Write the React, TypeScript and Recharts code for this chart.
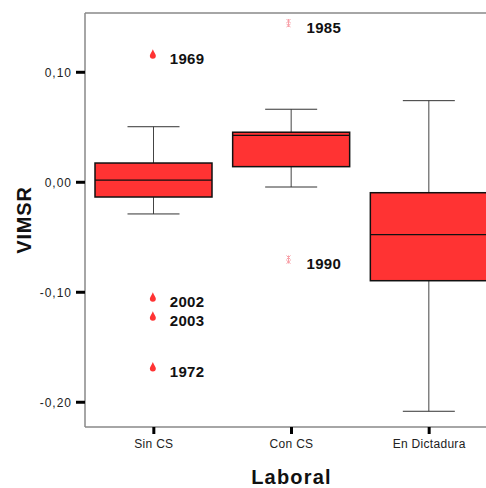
import React from 'react';
import { ComposedChart, Bar, Scatter, XAxis, YAxis, ReferenceLine } from 'recharts';

const categories = ['Sin CS', 'Con CS', 'En Dictadura'];
const whiskerLow = [-0.0288, -0.0043, -0.2082];
const q1 = [-0.0134, 0.0142, -0.0895];
const median = [0.002, 0.0427, -0.0476];
const q3 = [0.0175, 0.0455, -0.0095];
const whiskerHigh = [0.0505, 0.0664, 0.0742];

const outlierCat = [0, 0, 0, 0, 1, 1];
const outlierValue = [0.1163, -0.1045, -0.1218, -0.168, 0.1448, -0.0702];
const outlierLabel = ['1969', '2002', '2003', '1972', '1985', '1990'];
const outlierExtreme = [false, false, false, false, true, true];

const yTicks = [-0.2, -0.1, 0, 0.1];
const Y_MIN = -0.2225;
const Y_MAX = 0.1539;
const FONT = '"Liberation Sans", Arial, sans-serif';

const boxData = categories.map((name, i) => ({
  x: i,
  name,
  lo: whiskerLow[i],
  q1: q1[i],
  med: median[i],
  q3: q3[i],
  hi: whiskerHigh[i],
}));

const outlierData = outlierValue.map((v, i) => ({
  x: outlierCat[i],
  y: v,
  label: outlierLabel[i],
  extreme: outlierExtreme[i],
}));

const BoxShape = (props: any) => {
  const { x, y, width, height, payload } = props;
  const top = Math.min(y, y + height);
  const bot = Math.max(y, y + height);
  const ppu = (bot - top) / (payload.hi - payload.lo);
  const yOf = (v: number) => bot - (v - payload.lo) * ppu;
  const cx = x + width / 2;
  const cap = 26;
  return (
    <g>
      <line x1={cx} x2={cx} y1={yOf(payload.hi)} y2={yOf(payload.q3)} stroke="#444" strokeWidth={1} />
      <line x1={cx} x2={cx} y1={yOf(payload.q1)} y2={yOf(payload.lo)} stroke="#444" strokeWidth={1} />
      <line x1={cx - cap} x2={cx + cap} y1={yOf(payload.hi)} y2={yOf(payload.hi)} stroke="#333" strokeWidth={1} />
      <line x1={cx - cap} x2={cx + cap} y1={yOf(payload.lo)} y2={yOf(payload.lo)} stroke="#333" strokeWidth={1} />
      <rect
        x={x}
        y={yOf(payload.q3)}
        width={width}
        height={yOf(payload.q1) - yOf(payload.q3)}
        fill="#ff3333"
        stroke="#111"
        strokeWidth={1.5}
      />
      <line x1={x} x2={x + width} y1={yOf(payload.med)} y2={yOf(payload.med)} stroke="#111" strokeWidth={1.2} />
    </g>
  );
};

const OutlierShape = (props: any) => {
  const { cx, cy, payload } = props;
  if (payload.extreme) {
    const mx = cx - 3;
    return (
      <g>
        <path
          d={`M${mx - 2},${cy - 4} L${mx + 2},${cy} M${mx + 2},${cy - 4} L${mx - 2},${cy} M${mx},${cy - 4} L${mx},${cy + 4} M${mx - 2},${cy + 1} L${mx + 2},${cy + 4} M${mx + 2},${cy + 1} L${mx - 2},${cy + 4}`}
          stroke="#f8a0a8"
          strokeWidth={1}
          fill="none"
        />
        <text x={cx + 15} y={cy + 10} fontFamily={FONT} fontSize={15} fontWeight="bold" fill="#111" letterSpacing={0.3}>
          {payload.label}
        </text>
      </g>
    );
  }
  const px = cx - 1;
  return (
    <g>
      <path
        d={`M${px},${cy - 5} C${px + 1},${cy - 2} ${px + 3},${cy} ${px + 3},${cy + 1.5} A3,3 0 0 1 ${px - 3},${cy + 1.5} C${px - 3},${cy} ${px - 1},${cy - 2} ${px},${cy - 5} Z`}
        fill="#ff3333"
      />
      <text x={cx + 16} y={cy + 10} fontFamily={FONT} fontSize={15} fontWeight="bold" fill="#111" letterSpacing={0.3}>
        {payload.label}
      </text>
    </g>
  );
};

const fmt = (v: number) => (v < 0 ? '-' : '') + Math.abs(v).toFixed(2).replace('.', ',');

export default function App() {
  return (
    <div style={{ position: 'absolute', left: 0, top: 0, width: 486, height: 488, overflow: 'hidden', background: '#fff' }}>
      <ComposedChart width={500} height={488} margin={{ top: 13, right: 2, bottom: 0, left: 0 }} data={boxData}>
        <XAxis
          dataKey="x"
          type="number"
          domain={[-0.5, 2.5]}
          ticks={[0, 1, 2]}
          allowDataOverflow
          tickFormatter={(v: number) => categories[v] ?? ''}
          height={61}
          axisLine={{ stroke: '#888', strokeWidth: 1.5 }}
          tickLine={{ stroke: '#000', strokeWidth: 3 }}
          tickSize={7}
          tickMargin={5}
          tick={{ fontSize: 12, fontFamily: FONT, fill: '#222', letterSpacing: 0.3 }}
          label={{
            value: 'Laboral',
            position: 'insideBottom',
            offset: 4,
            style: { fontSize: 20, fontWeight: 'bold', fontFamily: FONT, fill: '#111', letterSpacing: 1.2 },
          }}
        />
        <YAxis
          type="number"
          domain={[Y_MIN, Y_MAX]}
          ticks={yTicks}
          allowDataOverflow
          width={85}
          tickFormatter={fmt}
          axisLine={{ stroke: '#888', strokeWidth: 1.5 }}
          tickLine={{ stroke: '#000', strokeWidth: 3 }}
          tickSize={9}
          tickMargin={4}
          tick={{ fontSize: 12, fontFamily: FONT, fill: '#222', letterSpacing: 1 }}
          label={{
            content: () => (
              <text
                x={31}
                y={220}
                transform="rotate(-90 31 220)"
                textAnchor="middle"
                fontFamily={FONT}
                fontSize={20}
                fontWeight="bold"
                fill="#111"
                letterSpacing={0.8}
              >
                VIMSR
              </text>
            ),
          }}
        />
        <ReferenceLine y={Y_MAX} stroke="#888" strokeWidth={1.5} ifOverflow="visible" />
        <Bar
          dataKey={(d: any) => [d.lo, d.hi]}
          barSize={117}
          shape={<BoxShape />}
          isAnimationActive={false}
        />
        <Scatter data={outlierData} dataKey="y" shape={<OutlierShape />} isAnimationActive={false} />
      </ComposedChart>
    </div>
  );
}
